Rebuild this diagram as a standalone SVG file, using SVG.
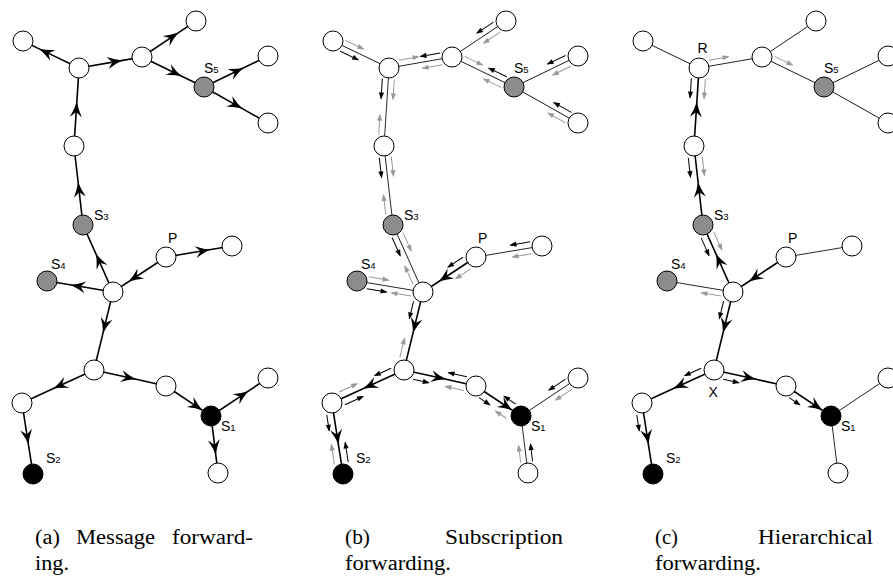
<svg xmlns="http://www.w3.org/2000/svg" width="893" height="577" viewBox="0 0 893 577">
<style>
.t{fill:none;stroke:#000;stroke-width:1.6;marker-mid:url(#big)}
.e{fill:none;stroke:#000;stroke-width:0.8}
.sb{fill:none;stroke:#000;stroke-width:1;marker-end:url(#ab)}
.sg{fill:none;stroke:#999;stroke-width:1;marker-end:url(#ag)}
.n{fill:#fff;stroke:#000;stroke-width:1}
.ng{fill:#8c8c8c;stroke:#000;stroke-width:1}
.nk{fill:#000;stroke:#000;stroke-width:1}
.lb{font-family:"Liberation Sans",Arial,sans-serif;font-size:14px;fill:#000}
.sub{font-size:9.5px}
.cap{font-family:"Liberation Serif","Times New Roman",serif;font-size:20.5px;fill:#000}
</style>
<defs>
<marker id="ab" viewBox="-8 -4 9 8" refX="0" refY="0" markerWidth="9" markerHeight="8" orient="auto" markerUnits="userSpaceOnUse"><path d="M1,0 L-6,-2.6 L-6,2.6 Z" fill="#000"/></marker>
<marker id="ag" viewBox="-8 -4 9 8" refX="0" refY="0" markerWidth="9" markerHeight="8" orient="auto" markerUnits="userSpaceOnUse"><path d="M1,0 L-6,-2.6 L-6,2.6 Z" fill="#999"/></marker>
<marker id="big" viewBox="-16 -7 17 14" refX="0" refY="0" markerWidth="17" markerHeight="14" orient="auto" markerUnits="userSpaceOnUse"><path d="M1,0 Q-6,-1.8 -14,-6 L-9,0 L-14,6 Q-6,1.8 1,0 Z" fill="#000"/></marker>
</defs>

<g id="connectors">
<g id="conn-a">
<g transform="translate(79,68) rotate(205.7)"><path class="t" d="M0,0H43H62.2"/></g>
<g transform="translate(79,68) rotate(-9.9)"><path class="t" d="M0,0H43H64"/></g>
<g transform="translate(142,57) rotate(-33.7)"><path class="t" d="M0,0H43H64.9"/></g>
<g transform="translate(142,57) rotate(25.8)"><path class="t" d="M0,0H43H68.9"/></g>
<g transform="translate(204,87) rotate(-25.8)"><path class="t" d="M0,0H43H71.1"/></g>
<g transform="translate(204,87) rotate(29.4)"><path class="t" d="M0,0H43H73.4"/></g>
<g transform="translate(74,146) rotate(-86.3)"><path class="t" d="M0,0H43H78.2"/></g>
<g transform="translate(83,225) rotate(-96.5)"><path class="t" d="M0,0H42H79.5"/></g>
<g transform="translate(113,292) rotate(-114.1)"><path class="t" d="M0,0H41H73.4"/></g>
<g transform="translate(166,257) rotate(146.6)"><path class="t" d="M0,0H44H63.5"/></g>
<g transform="translate(166,257) rotate(-9.5)"><path class="t" d="M0,0H44H66.9"/></g>
<g transform="translate(113,292) rotate(189.5)"><path class="t" d="M0,0H42H66.9"/></g>
<g transform="translate(113,292) rotate(103.7)"><path class="t" d="M0,0H41H80.3"/></g>
<g transform="translate(94,370) rotate(155.4)"><path class="t" d="M0,0H44H79.2"/></g>
<g transform="translate(94,370) rotate(12.5)"><path class="t" d="M0,0H42H73.8"/></g>
<g transform="translate(166,386) rotate(33.7)"><path class="t" d="M0,0H43H54.1"/></g>
<g transform="translate(211,416) rotate(-33.7)"><path class="t" d="M0,0H44H68.5"/></g>
<g transform="translate(211,416) rotate(83)"><path class="t" d="M0,0H38H57.4"/></g>
<g transform="translate(22,403) rotate(81.2)"><path class="t" d="M0,0H41H71.8"/></g>
</g>
<g id="conn-b" transform="translate(310,0)">
<g transform="translate(79,68) rotate(205.7)"><path class="e" d="M0,0H62.2"/><path class="sg" d="M51.2,6H31.2"/><path class="sb" d="M51.2,-6H31.2"/></g>
<g transform="translate(79,68) rotate(-9.9)"><path class="e" d="M0,0H64"/><path class="sg" d="M11,-6H31"/><path class="sb" d="M53,-6H33"/><path class="sg" d="M53,6H33"/></g>
<g transform="translate(142,57) rotate(-33.7)"><path class="e" d="M0,0H64.9"/><path class="sb" d="M53.9,-6H33.9"/><path class="sg" d="M53.9,6H33.9"/></g>
<g transform="translate(142,57) rotate(25.8)"><path class="e" d="M0,0H68.9"/><path class="sg" d="M11,-6H31"/><path class="sb" d="M57.9,-6H37.9"/><path class="sg" d="M57.9,6H37.9"/></g>
<g transform="translate(204,87) rotate(-25.8)"><path class="e" d="M0,0H71.1"/><path class="sb" d="M60.1,-6H40.1"/><path class="sg" d="M60.1,6H40.1"/></g>
<g transform="translate(204,87) rotate(29.4)"><path class="e" d="M0,0H73.4"/><path class="sb" d="M62.4,-6H42.4"/><path class="sg" d="M62.4,6H42.4"/></g>
<g transform="translate(74,146) rotate(-86.3)"><path class="e" d="M0,0H78.2"/><path class="sb" d="M67.2,-6H47.2"/><path class="sg" d="M67.2,6H47.2"/><path class="sg" d="M11,-6H31"/></g>
<g transform="translate(83,225) rotate(-96.5)"><path class="e" d="M0,0H79.5"/><path class="sb" d="M68.5,-6H48.5"/><path class="sg" d="M68.5,6H48.5"/><path class="sg" d="M11,-6H31"/></g>
<g transform="translate(113,292) rotate(-114.1)"><path class="e" d="M0,0H73.4"/><path class="sb" d="M62.4,-6H42.4"/><path class="sg" d="M62.4,6H42.4"/><path class="sg" d="M11,-6H31"/></g>
<g transform="translate(166,257) rotate(146.6)"><path class="t" d="M0,0H44H63.5"/><path class="sb" d="M11,7H29"/><path class="sg" d="M11,-7H29"/></g>
<g transform="translate(166,257) rotate(-9.5)"><path class="e" d="M0,0H66.9"/><path class="sb" d="M55.9,-6H35.9"/><path class="sg" d="M55.9,6H35.9"/></g>
<g transform="translate(113,292) rotate(189.5)"><path class="e" d="M0,0H66.9"/><path class="sg" d="M55.9,6H35.9"/><path class="sb" d="M55.9,-6H35.9"/><path class="sg" d="M11,-6H31"/></g>
<g transform="translate(113,292) rotate(103.7)"><path class="t" d="M0,0H41H80.3"/><path class="sb" d="M11,7H29"/><path class="sg" d="M69.3,7H49.3"/></g>
<g transform="translate(94,370) rotate(155.4)"><path class="t" d="M0,0H44H79.2"/><path class="sb" d="M11,7H29"/><path class="sg" d="M68.2,7H48.2"/><path class="sb" d="M68.2,-7H48.2"/></g>
<g transform="translate(94,370) rotate(12.5)"><path class="t" d="M0,0H42H73.8"/><path class="sb" d="M11,7H27"/><path class="sb" d="M62.8,-7H44"/><path class="sg" d="M62.8,7H44"/></g>
<g transform="translate(166,386) rotate(33.7)"><path class="t" d="M0,0H43H54.1"/><path class="sb" d="M9,8H22"/><path class="sb" d="M43.1,-7H29"/><path class="sg" d="M43.1,10H30"/></g>
<g transform="translate(211,416) rotate(-33.7)"><path class="e" d="M0,0H68.5"/><path class="sb" d="M57.5,-6H37.5"/><path class="sg" d="M57.5,6H37.5"/></g>
<g transform="translate(211,416) rotate(83)"><path class="e" d="M0,0H57.4"/><path class="sg" d="M46.4,6H29"/><path class="sb" d="M46.4,-6H29"/></g>
<g transform="translate(22,403) rotate(81.2)"><path class="t" d="M0,0H41H71.8"/><path class="sb" d="M11,7H27"/><path class="sg" d="M60.8,7H41"/><path class="sb" d="M60.8,-7H41"/></g>
</g>
<g id="conn-c" transform="translate(620,0)">
<g transform="translate(79,68) rotate(205.7)"><path class="e" d="M0,0H62.2"/></g>
<g transform="translate(79,68) rotate(-9.9)"><path class="e" d="M0,0H64"/><path class="sg" d="M11,-6H31"/></g>
<g transform="translate(142,57) rotate(-33.7)"><path class="e" d="M0,0H64.9"/></g>
<g transform="translate(142,57) rotate(25.8)"><path class="e" d="M0,0H68.9"/><path class="sg" d="M11,-6H31"/></g>
<g transform="translate(204,87) rotate(-25.8)"><path class="e" d="M0,0H71.1"/></g>
<g transform="translate(204,87) rotate(29.4)"><path class="e" d="M0,0H73.4"/></g>
<g transform="translate(74,146) rotate(-86.3)"><path class="t" d="M0,0H43H78.2"/><path class="sb" d="M67.2,-7H48"/><path class="sg" d="M67.2,7H48"/></g>
<g transform="translate(83,225) rotate(-96.5)"><path class="t" d="M0,0H42H79.5"/><path class="sb" d="M68.5,-7H49"/><path class="sg" d="M68.5,7H49"/></g>
<g transform="translate(113,292) rotate(-114.1)"><path class="t" d="M0,0H41H73.4"/><path class="sb" d="M62.4,-7H43"/><path class="sg" d="M62.4,7H43"/></g>
<g transform="translate(166,257) rotate(146.6)"><path class="t" d="M0,0H44H63.5"/></g>
<g transform="translate(166,257) rotate(-9.5)"><path class="e" d="M0,0H66.9"/></g>
<g transform="translate(113,292) rotate(189.5)"><path class="e" d="M0,0H66.9"/><path class="sg" d="M11,-6H31"/></g>
<g transform="translate(113,292) rotate(103.7)"><path class="t" d="M0,0H41H80.3"/><path class="sb" d="M11,7H29"/></g>
<g transform="translate(94,370) rotate(155.4)"><path class="t" d="M0,0H44H79.2"/><path class="sb" d="M11,7H29"/></g>
<g transform="translate(94,370) rotate(12.5)"><path class="t" d="M0,0H42H73.8"/><path class="sb" d="M11,7H27"/></g>
<g transform="translate(166,386) rotate(33.7)"><path class="t" d="M0,0H43H54.1"/><path class="sb" d="M9,8H22"/></g>
<g transform="translate(211,416) rotate(-33.7)"><path class="e" d="M0,0H68.5"/></g>
<g transform="translate(211,416) rotate(83)"><path class="e" d="M0,0H57.4"/></g>
<g transform="translate(22,403) rotate(81.2)"><path class="t" d="M0,0H41H71.8"/><path class="sb" d="M11,7H27"/></g>
</g>
</g>

<g id="nodes-a">
<g id="a-TL"><circle class="n" cx="23" cy="41" r="10"/></g>
<g id="a-A"><circle class="n" cx="79" cy="68" r="10"/></g>
<g id="a-B"><circle class="n" cx="142" cy="57" r="10"/></g>
<g id="a-TR"><circle class="n" cx="196" cy="21" r="10"/></g>
<g id="a-S5"><circle class="ng" cx="204" cy="87" r="10"/><text class="lb" x="204" y="73">S<tspan class="sub">5</tspan></text></g>
<g id="a-RU"><circle class="n" cx="268" cy="56" r="10"/></g>
<g id="a-RL"><circle class="n" cx="268" cy="123" r="10"/></g>
<g id="a-U"><circle class="n" cx="74" cy="146" r="10"/></g>
<g id="a-S3"><circle class="ng" cx="83" cy="225" r="10"/><text class="lb" x="94" y="220">S<tspan class="sub">3</tspan></text></g>
<g id="a-P"><circle class="n" cx="166" cy="257" r="10"/><text class="lb" x="168" y="243">P</text></g>
<g id="a-PR"><circle class="n" cx="232" cy="246" r="10"/></g>
<g id="a-S4"><circle class="ng" cx="47" cy="281" r="10"/><text class="lb" x="51" y="269">S<tspan class="sub">4</tspan></text></g>
<g id="a-H"><circle class="n" cx="113" cy="292" r="10"/></g>
<g id="a-L"><circle class="n" cx="94" cy="370" r="10"/></g>
<g id="a-LL"><circle class="n" cx="22" cy="403" r="10"/></g>
<g id="a-S2"><circle class="nk" cx="33" cy="474" r="10"/><text class="lb" x="46" y="463">S<tspan class="sub">2</tspan></text></g>
<g id="a-M"><circle class="n" cx="166" cy="386" r="10"/></g>
<g id="a-S1"><circle class="nk" cx="211" cy="416" r="10"/><text class="lb" x="221" y="431">S<tspan class="sub">1</tspan></text></g>
<g id="a-SR"><circle class="n" cx="268" cy="378" r="10"/></g>
<g id="a-SB"><circle class="n" cx="218" cy="473" r="10"/></g>
</g>

<g id="nodes-b" transform="translate(310,0)">
<g id="b-TL"><circle class="n" cx="23" cy="41" r="10"/></g>
<g id="b-A"><circle class="n" cx="79" cy="68" r="10"/></g>
<g id="b-B"><circle class="n" cx="142" cy="57" r="10"/></g>
<g id="b-TR"><circle class="n" cx="196" cy="21" r="10"/></g>
<g id="b-S5"><circle class="ng" cx="204" cy="87" r="10"/><text class="lb" x="204" y="73">S<tspan class="sub">5</tspan></text></g>
<g id="b-RU"><circle class="n" cx="268" cy="56" r="10"/></g>
<g id="b-RL"><circle class="n" cx="268" cy="123" r="10"/></g>
<g id="b-U"><circle class="n" cx="74" cy="146" r="10"/></g>
<g id="b-S3"><circle class="ng" cx="83" cy="225" r="10"/><text class="lb" x="94" y="220">S<tspan class="sub">3</tspan></text></g>
<g id="b-P"><circle class="n" cx="166" cy="257" r="10"/><text class="lb" x="168" y="243">P</text></g>
<g id="b-PR"><circle class="n" cx="232" cy="246" r="10"/></g>
<g id="b-S4"><circle class="ng" cx="47" cy="281" r="10"/><text class="lb" x="51" y="269">S<tspan class="sub">4</tspan></text></g>
<g id="b-H"><circle class="n" cx="113" cy="292" r="10"/></g>
<g id="b-L"><circle class="n" cx="94" cy="370" r="10"/></g>
<g id="b-LL"><circle class="n" cx="22" cy="403" r="10"/></g>
<g id="b-S2"><circle class="nk" cx="33" cy="474" r="10"/><text class="lb" x="46" y="463">S<tspan class="sub">2</tspan></text></g>
<g id="b-M"><circle class="n" cx="166" cy="386" r="10"/></g>
<g id="b-S1"><circle class="nk" cx="211" cy="416" r="10"/><text class="lb" x="221" y="431">S<tspan class="sub">1</tspan></text></g>
<g id="b-SR"><circle class="n" cx="268" cy="378" r="10"/></g>
<g id="b-SB"><circle class="n" cx="218" cy="473" r="10"/></g>
</g>

<g id="nodes-c" transform="translate(620,0)">
<g id="c-TL"><circle class="n" cx="23" cy="41" r="10"/></g>
<g id="c-A"><circle class="n" cx="79" cy="68" r="10"/><text class="lb" x="77.5" y="53">R</text></g>
<g id="c-B"><circle class="n" cx="142" cy="57" r="10"/></g>
<g id="c-TR"><circle class="n" cx="196" cy="21" r="10"/></g>
<g id="c-S5"><circle class="ng" cx="204" cy="87" r="10"/><text class="lb" x="204" y="73">S<tspan class="sub">5</tspan></text></g>
<g id="c-RU"><circle class="n" cx="268" cy="56" r="10"/></g>
<g id="c-RL"><circle class="n" cx="268" cy="123" r="10"/></g>
<g id="c-U"><circle class="n" cx="74" cy="146" r="10"/></g>
<g id="c-S3"><circle class="ng" cx="83" cy="225" r="10"/><text class="lb" x="94" y="220">S<tspan class="sub">3</tspan></text></g>
<g id="c-P"><circle class="n" cx="166" cy="257" r="10"/><text class="lb" x="168" y="243">P</text></g>
<g id="c-PR"><circle class="n" cx="232" cy="246" r="10"/></g>
<g id="c-S4"><circle class="ng" cx="47" cy="281" r="10"/><text class="lb" x="51" y="269">S<tspan class="sub">4</tspan></text></g>
<g id="c-H"><circle class="n" cx="113" cy="292" r="10"/></g>
<g id="c-L"><circle class="n" cx="94" cy="370" r="10"/><text class="lb" x="88.5" y="397">X</text></g>
<g id="c-LL"><circle class="n" cx="22" cy="403" r="10"/></g>
<g id="c-S2"><circle class="nk" cx="33" cy="474" r="10"/><text class="lb" x="46" y="463">S<tspan class="sub">2</tspan></text></g>
<g id="c-M"><circle class="n" cx="166" cy="386" r="10"/></g>
<g id="c-S1"><circle class="nk" cx="211" cy="416" r="10"/><text class="lb" x="221" y="431">S<tspan class="sub">1</tspan></text></g>
<g id="c-SR"><circle class="n" cx="268" cy="378" r="10"/></g>
<g id="c-SB"><circle class="n" cx="218" cy="473" r="10"/></g>
</g>

<g id="captions">
<text class="cap" x="35" y="544" textLength="25" lengthAdjust="spacingAndGlyphs">(a)</text>
<text class="cap" x="76" y="544" textLength="79" lengthAdjust="spacingAndGlyphs">Message</text>
<text class="cap" x="172" y="544" textLength="81" lengthAdjust="spacingAndGlyphs">forward-</text>
<text class="cap" x="35" y="570" textLength="34" lengthAdjust="spacingAndGlyphs">ing.</text>
<text class="cap" x="345" y="544" textLength="25" lengthAdjust="spacingAndGlyphs">(b)</text>
<text class="cap" x="445" y="544" textLength="118" lengthAdjust="spacingAndGlyphs">Subscription</text>
<text class="cap" x="345" y="570" textLength="106" lengthAdjust="spacingAndGlyphs">forwarding.</text>
<text class="cap" x="655" y="544" textLength="23" lengthAdjust="spacingAndGlyphs">(c)</text>
<text class="cap" x="758" y="544" textLength="115" lengthAdjust="spacingAndGlyphs">Hierarchical</text>
<text class="cap" x="655" y="570" textLength="106" lengthAdjust="spacingAndGlyphs">forwarding.</text>
</g>
</svg>
